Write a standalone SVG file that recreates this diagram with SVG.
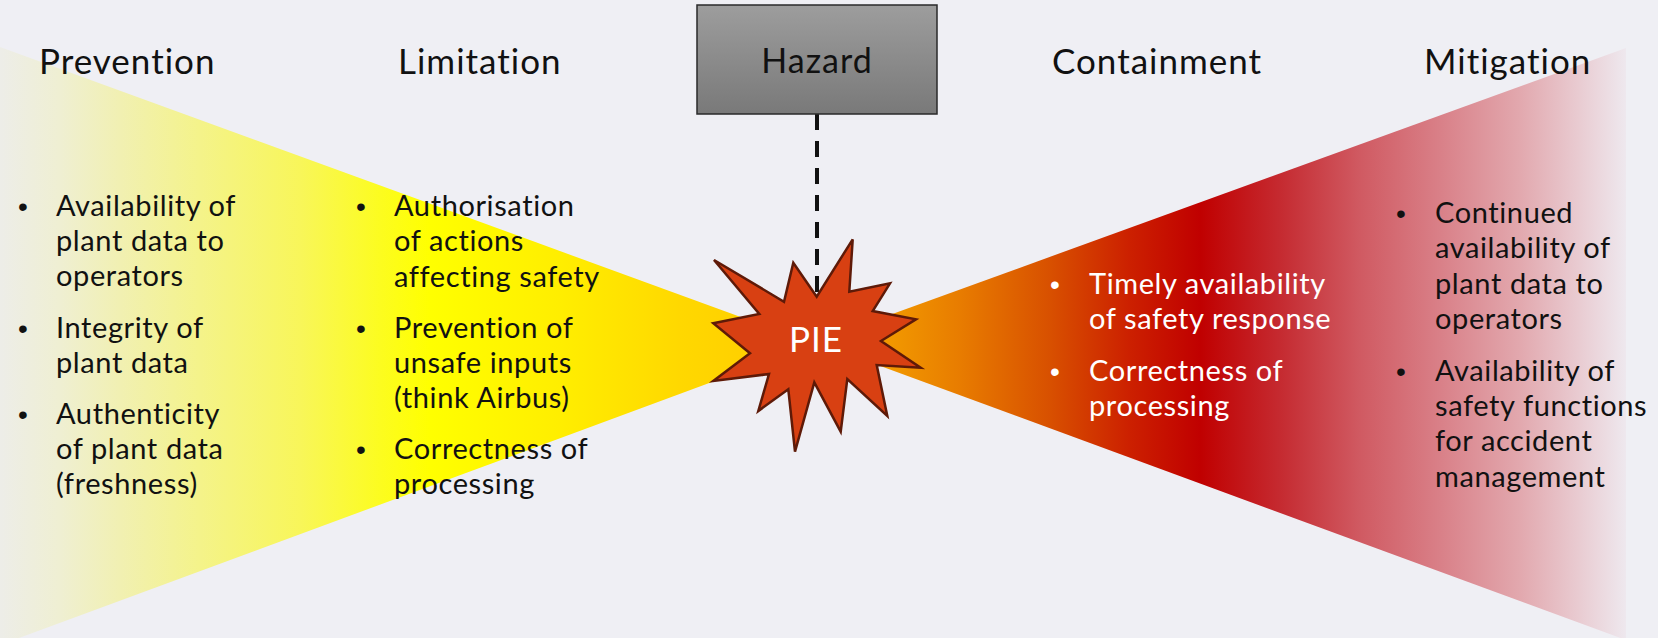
<svg xmlns="http://www.w3.org/2000/svg" width="1658" height="638" viewBox="0 0 1658 638">
  <defs>
    <linearGradient id="gradPrevent" gradientUnits="userSpaceOnUse" x1="0" y1="0" x2="815" y2="0">
      <stop offset="0" stop-color="#EDEDE8"/>
      <stop offset="0.074" stop-color="#EFEFD2"/>
      <stop offset="0.147" stop-color="#F1F0B2"/>
      <stop offset="0.245" stop-color="#F4F38A"/>
      <stop offset="0.368" stop-color="#F8F65A"/>
      <stop offset="0.466" stop-color="#FCFC20"/>
      <stop offset="0.528" stop-color="#FFFF00"/>
      <stop offset="0.687" stop-color="#FFEE00"/>
      <stop offset="0.834" stop-color="#FFD800"/>
      <stop offset="1" stop-color="#FFC800"/>
    </linearGradient>
    <linearGradient id="gradContain" gradientUnits="userSpaceOnUse" x1="815" y1="0" x2="1626" y2="0">
      <stop offset="0" stop-color="#F8B000"/>
      <stop offset="0.105" stop-color="#F09400"/>
      <stop offset="0.179" stop-color="#E87C00"/>
      <stop offset="0.290" stop-color="#D85000"/>
      <stop offset="0.388" stop-color="#CC2000"/>
      <stop offset="0.475" stop-color="#C00000"/>
      <stop offset="0.573" stop-color="#C52A30"/>
      <stop offset="0.672" stop-color="#D05A62"/>
      <stop offset="0.771" stop-color="#D98088"/>
      <stop offset="0.869" stop-color="#E2A8AE"/>
      <stop offset="0.943" stop-color="#E9CCD2"/>
      <stop offset="1" stop-color="#EEE8EE"/>
    </linearGradient>
    <linearGradient id="gradHazard" x1="0" y1="0" x2="0" y2="1">
      <stop offset="0" stop-color="#9D9D9D"/>
      <stop offset="1" stop-color="#797979"/>
    </linearGradient>
  </defs>
  <style>
    .title { font-family: Lato, "Liberation Sans", sans-serif; font-size: 35px; letter-spacing: 1px; fill: #111111; }
    .item { font-family: Lato, "Liberation Sans", sans-serif; font-size: 29px; letter-spacing: 0.6px; fill: #111111; }
    .item.light { fill: #FFFFFF; }
    .bullet { font-family: "Liberation Sans", sans-serif; font-size: 28px; fill: #111111; }
    .bullet.light { fill: #FFFFFF; }
  </style>

  <!-- background -->
  <rect x="0" y="0" width="1658" height="638" fill="#EFEFF4"/>

  <!-- barrier wedges -->
  <g id="wedges">
    <polygon id="wedge-left" points="0,47 815,344 0,645" fill="url(#gradPrevent)"/>
    <polygon id="wedge-right" points="815,342 1626,48 1626,640" fill="url(#gradContain)"/>
  </g>

  <!-- column headings -->
  <g id="headings">
    <text class="title" x="39" y="74">Prevention</text>
    <text class="title" x="398" y="74">Limitation</text>
    <text class="title" x="1052" y="74">Containment</text>
    <text class="title" x="1424" y="74">Mitigation</text>
  </g>

  <!-- connectors -->
  <g id="connectors">
    <line x1="817" y1="114" x2="817" y2="296" stroke="#111111" stroke-width="4" stroke-dasharray="16 11"/>
  </g>

  <!-- hazard box -->
  <g id="hazard">
    <rect x="697" y="5" width="240" height="109" fill="url(#gradHazard)" stroke="#2A2A2A" stroke-width="1.5"/>
    <text x="817" y="73" text-anchor="middle" font-family="Lato, Liberation Sans, sans-serif" font-size="34" letter-spacing="1" fill="#111111">Hazard</text>
  </g>

  <!-- postulated initiating event -->
  <g id="pie">
    <polygon points="852.7,239.3 849.3,291.7 890,283.3 872.7,311 916,319.3 881,341 920.7,367.7 876.7,365 887.3,416 847.3,379 840.7,431.7 814.3,382.3 795,451.7 788.3,389.3 758.3,411 769,374 713.3,381 750,353.3 713.3,323.3 759.3,314 714,260 784,301.7 793.3,262.7 816.7,296.7" fill="#D84012" stroke="#5E1A08" stroke-width="2.5" stroke-linejoin="miter"/>
    <text x="816" y="352" text-anchor="middle" font-family="Lato, Liberation Sans, sans-serif" font-size="35" letter-spacing="1" fill="#FFFFFF">PIE</text>
  </g>

  <!-- prevention column -->
  <g id="prevention-items">
    <text class="bullet" x="18" y="216">•</text>
    <text class="item" x="56" y="216">Availability of</text>
    <text class="item" x="56" y="251">plant data to</text>
    <text class="item" x="56" y="286">operators</text>
    <text class="bullet" x="18" y="338">•</text>
    <text class="item" x="56" y="338">Integrity of</text>
    <text class="item" x="56" y="373">plant data</text>
    <text class="bullet" x="18" y="424">•</text>
    <text class="item" x="56" y="424">Authenticity</text>
    <text class="item" x="56" y="459">of plant data</text>
    <text class="item" x="56" y="494">(freshness)</text>
  </g>

  <!-- limitation column -->
  <g id="limitation-items">
    <text class="bullet" x="356" y="216">•</text>
    <text class="item" x="394" y="216">Authorisation</text>
    <text class="item" x="394" y="251">of actions</text>
    <text class="item" x="394" y="287">affecting safety</text>
    <text class="bullet" x="356" y="338">•</text>
    <text class="item" x="394" y="338">Prevention of</text>
    <text class="item" x="394" y="373">unsafe inputs</text>
    <text class="item" x="394" y="408">(think Airbus)</text>
    <text class="bullet" x="356" y="459">•</text>
    <text class="item" x="394" y="459">Correctness of</text>
    <text class="item" x="394" y="494">processing</text>
  </g>

  <!-- containment column -->
  <g id="containment-items">
    <text class="bullet light" x="1050" y="294">•</text>
    <text class="item light" x="1089" y="294">Timely availability</text>
    <text class="item light" x="1089" y="329">of safety response</text>
    <text class="bullet light" x="1050" y="381">•</text>
    <text class="item light" x="1089" y="381">Correctness of</text>
    <text class="item light" x="1089" y="416">processing</text>
  </g>

  <!-- mitigation column -->
  <g id="mitigation-items">
    <text class="bullet" x="1396" y="223">•</text>
    <text class="item" x="1435" y="223">Continued</text>
    <text class="item" x="1435" y="258">availability of</text>
    <text class="item" x="1435" y="294">plant data to</text>
    <text class="item" x="1435" y="329">operators</text>
    <text class="bullet" x="1396" y="381">•</text>
    <text class="item" x="1435" y="381">Availability of</text>
    <text class="item" x="1435" y="416">safety functions</text>
    <text class="item" x="1435" y="451">for accident</text>
    <text class="item" x="1435" y="487">management</text>
  </g>
</svg>
